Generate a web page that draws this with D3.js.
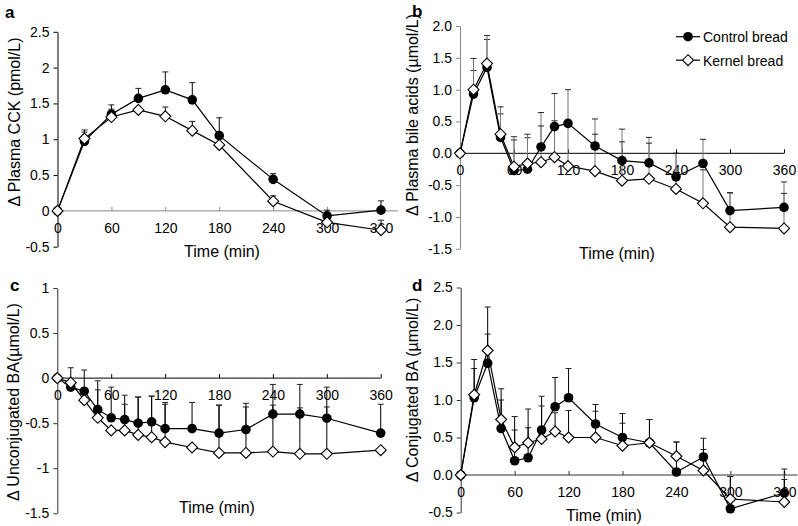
<!DOCTYPE html>
<html>
<head>
<meta charset="utf-8">
<script src="https://cdn.jsdelivr.net/npm/d3@7"></script>
<style>
  body { margin: 0; background: #fff; }
  svg { font-family: "Liberation Sans", Arial, sans-serif; }
</style>
</head>
<body>
<svg id="chart" width="798" height="526"></svg>
<script>
// time points (min)
const timesA = [0, 30, 60, 90, 120, 150, 180, 240, 300, 360];
const timesBCD = [0, 15, 30, 45, 60, 75, 90, 105, 120, 150, 180, 210, 240, 270, 300, 360];
const xTicks = [0, 60, 120, 180, 240, 300, 360];

// a: plasma CCK
const ctrlA = [0, 0.97, 1.35, 1.57, 1.69, 1.55, 1.05, 0.44, -0.07, 0.01];
const ctrlATop = [null, 1.13, 1.48, 1.71, 1.94, 1.79, 1.30, 0.52, 0.01, 0.14];
const kernA = [0, 1.01, 1.31, 1.41, 1.32, 1.12, 0.92, 0.135, -0.16, -0.27];
const kernATop = [null, 1.10, 1.42, null, 1.45, 1.25, null, 0.21, null, -0.13];

// b: plasma bile acids
const ctrlB = [0, 0.93, 1.35, 0.25, -0.27, -0.25, 0.10, 0.42, 0.47, 0.115, -0.115, -0.15, -0.37, -0.16, -0.90, -0.85];
const ctrlBTop = [null, 1.30, 1.79, 0.62, 0.21, 0.245, 0.64, 0.94, 1.0, 0.54, 0.38, 0.25, 0.0, 0.22, -0.62, -0.45];
const kernB = [0, 1.00, 1.41, 0.30, -0.21, -0.16, -0.14, -0.06, -0.20, -0.28, -0.43, -0.40, -0.56, -0.785, -1.16, -1.18];
const kernBTop = [null, 1.49, 1.85, 0.73, 0.26, 0.30, 0.43, 0.51, 0.42, 0.30, 0.18, 0.16, 0.0, -0.26, -0.62, -0.63];

// c: unconjugated BA
const ctrlC = [0, -0.10, -0.145, -0.35, -0.44, -0.46, -0.50, -0.485, -0.56, -0.56, -0.61, -0.57, -0.40, -0.40, -0.445, -0.61];
const ctrlCTop = [null, 0.115, 0.09, -0.03, -0.10, -0.19, -0.21, -0.20, -0.27, -0.27, -0.30, -0.28, -0.07, -0.07, -0.10, -0.29];
const kernC = [0, -0.05, -0.245, -0.44, -0.58, -0.58, -0.63, -0.655, -0.71, -0.77, -0.83, -0.83, -0.815, -0.84, -0.84, -0.80];
const kernCTop = [null, null, null, -0.13, null, -0.29, -0.21, -0.20, -0.29, null, -0.30, -0.32, -0.30, -0.33, -0.32, null];

// d: conjugated BA
const ctrlD = [0, 1.03, 1.49, 0.62, 0.19, 0.23, 0.60, 0.91, 1.03, 0.68, 0.50, 0.43, 0.04, 0.24, -0.45, -0.24];
const ctrlDTop = [null, 1.42, 1.88, 1.00, 0.60, 0.63, 1.05, 1.30, 1.42, 0.94, 0.82, 0.74, 0.44, 0.49, -0.02, 0.08];
const kernD = [0, 1.07, 1.66, 0.74, 0.37, 0.43, 0.48, 0.58, 0.50, 0.50, 0.39, 0.43, 0.25, 0.06, -0.32, -0.36];
const kernDTop = [null, 1.54, 2.24, 1.15, 0.78, 0.88, 0.92, 0.83, 0.86, 0.85, 0.69, 0.74, 0.44, 0.34, -0.02, -0.06];

const seriesNames = ["Control bread", "Kernel bread"];

const plain = d => String(d).replace("\u2212", "-");
const oneDec = d => d.toFixed(1);

const panels = [
  { letter: "a", lx: 5, ly: 18, times: timesA, ctrl: ctrlA, ctrlTop: ctrlATop, kern: kernA, kernTop: kernATop,
    yDomain: [-0.5, 2.5], yTicks: [-0.5, 0, 0.5, 1, 1.5, 2, 2.5], fmt: plain,
    x0: 57.5, x1: 381, xExt: 17, yTop: 31.8, yBot: 246.7,
    yAxisColor: "#000", xAxisColor: "#888", errColor: "#000",
    yTitle: "\u0394 Plasma CCK (pmol/L)", ytX: 19.5, ytY: 122, xtX: 222, xtY: 256.5 },
  { letter: "b", lx: 412, ly: 17, times: timesBCD, ctrl: ctrlB, ctrlTop: ctrlBTop, kern: kernB, kernTop: kernBTop,
    yDomain: [-1.5, 2.0], yTicks: [-1.5, -1, -0.5, 0, 0.5, 1, 1.5, 2], fmt: oneDec,
    x0: 460, x1: 784, xExt: 0, yTop: 26, yBot: 248.8,
    yAxisColor: "#888", xAxisColor: "#000", errColor: "#777",
    yTitle: "\u0394 Plasma bile acids (\u00b5mol/L)", ytX: 418, ytY: 115, xtX: 617, xtY: 259 },
  { letter: "c", lx: 10, ly: 291, times: timesBCD, ctrl: ctrlC, ctrlTop: ctrlCTop, kern: kernC, kernTop: kernCTop,
    yDomain: [-1.5, 1], yTicks: [-1.5, -1, -0.5, 0, 0.5, 1], fmt: plain,
    x0: 57.3, x1: 380.7, xExt: 0, yTop: 288, yBot: 513.3,
    yAxisColor: "#333", xAxisColor: "#000", errColor: "#000",
    yTitle: "\u0394 Unconjugated BA(\u00b5mol/L)", ytX: 18.5, ytY: 402, xtX: 217, xtY: 512.5 },
  { letter: "d", lx: 412, ly: 291, times: timesBCD, ctrl: ctrlD, ctrlTop: ctrlDTop, kern: kernD, kernTop: kernDTop,
    yDomain: [-0.5, 2.5], yTicks: [-0.5, 0, 0.5, 1, 1.5, 2, 2.5], fmt: oneDec,
    x0: 460.7, x1: 784.3, xExt: 13, yTop: 287.5, yBot: 512.5,
    yAxisColor: "#333", xAxisColor: "#333", errColor: "#000",
    yTitle: "\u0394 Conjugated BA (\u00b5mol/L)", ytX: 418, ytY: 390, xtX: 604, xtY: 521 }
];

const svg = d3.select("#chart");
const diamond = "M0,-5.5L5.5,0L0,5.5L-5.5,0Z";

panels.forEach(p => {
  const x = d3.scaleLinear().domain([0, 360]).range([p.x0, p.x1]);
  const y = d3.scaleLinear().domain(p.yDomain).range([p.yBot, p.yTop]);
  const g = svg.append("g");

  // y axis
  const ya = g.append("g")
    .attr("transform", `translate(${p.x0},0)`)
    .call(d3.axisLeft(y).tickValues(p.yTicks).tickFormat(p.fmt).tickSize(4).tickPadding(4).tickSizeOuter(0));
  ya.select(".domain").attr("stroke", p.yAxisColor);
  ya.selectAll(".tick line").attr("stroke", p.yAxisColor);
  ya.selectAll("text").attr("font-size", 14).attr("fill", "#000").style("font-family", "inherit");

  // x axis at zero
  const xa = g.append("g")
    .attr("transform", `translate(0,${y(0)})`)
    .call(d3.axisBottom(x).tickValues(xTicks).tickSize(-4).tickPadding(12).tickSizeOuter(0));
  xa.select(".domain").remove();
  xa.append("line")
    .attr("x1", p.x0).attr("x2", p.x1 + p.xExt)
    .attr("stroke", p.xAxisColor);
  xa.selectAll(".tick line").attr("stroke", p.xAxisColor);
  xa.selectAll("text").attr("font-size", 14).attr("fill", "#000").style("font-family", "inherit");

  // titles
  g.append("text").attr("x", p.lx).attr("y", p.ly)
    .attr("font-size", 17).attr("font-weight", "bold").text(p.letter);
  g.append("text")
    .attr("transform", `translate(${p.ytX},${p.ytY}) rotate(-90)`)
    .attr("text-anchor", "middle").attr("font-size", 16).text(p.yTitle);
  g.append("text").attr("x", p.xtX).attr("y", p.xtY)
    .attr("text-anchor", "middle").attr("font-size", 16).text("Time (min)");

  const series = [
    { vals: p.ctrl, tops: p.ctrlTop, filled: true },
    { vals: p.kern, tops: p.kernTop, filled: false }
  ];

  // error bars (upper only)
  series.forEach(s => {
    const pts = p.times.map((t, i) => ({ t, v: s.vals[i], top: s.tops[i] })).filter(d => d.top !== null);
    const eb = g.append("g");
    eb.selectAll("line.v").data(pts).join("line")
      .attr("x1", d => x(d.t)).attr("x2", d => x(d.t))
      .attr("y1", d => y(d.v)).attr("y2", d => y(d.top))
      .attr("stroke", p.errColor).attr("stroke-width", 1);
    eb.selectAll("line.c").data(pts).join("line")
      .attr("x1", d => x(d.t) - 3).attr("x2", d => x(d.t) + 3)
      .attr("y1", d => y(d.top)).attr("y2", d => y(d.top))
      .attr("stroke", "#222").attr("stroke-width", 1);
  });

  // lines + markers
  series.forEach(s => {
    const pts = p.times.map((t, i) => ({ t, v: s.vals[i] }));
    g.append("path").datum(pts)
      .attr("fill", "none").attr("stroke", "#000").attr("stroke-width", 1.2)
      .attr("d", d3.line().x(d => x(d.t)).y(d => y(d.v)));
    if (s.filled) {
      g.selectAll(null).data(pts).join("circle")
        .attr("cx", d => x(d.t)).attr("cy", d => y(d.v)).attr("r", 4.8).attr("fill", "#000");
    } else {
      g.selectAll(null).data(pts).join("path")
        .attr("transform", d => `translate(${x(d.t)},${y(d.v)})`)
        .attr("d", diamond).attr("fill", "#fff").attr("stroke", "#000").attr("stroke-width", 1.1);
    }
  });
});

// legend (panel b)
const leg = svg.append("g");
seriesNames.forEach((name, i) => {
  const ly = 36.7 + i * 23.5;
  leg.append("line").attr("x1", 676).attr("x2", 700).attr("y1", ly).attr("y2", ly)
    .attr("stroke", "#000").attr("stroke-width", 1.2);
  if (i === 0) {
    leg.append("circle").attr("cx", 688).attr("cy", ly).attr("r", 4.8).attr("fill", "#000");
  } else {
    leg.append("path").attr("transform", `translate(688,${ly})`).attr("d", diamond)
      .attr("fill", "#fff").attr("stroke", "#000").attr("stroke-width", 1.1);
  }
  leg.append("text").attr("x", 703).attr("y", ly + 5.3).attr("font-size", 14).text(name);
});
</script>
</body>
</html>
